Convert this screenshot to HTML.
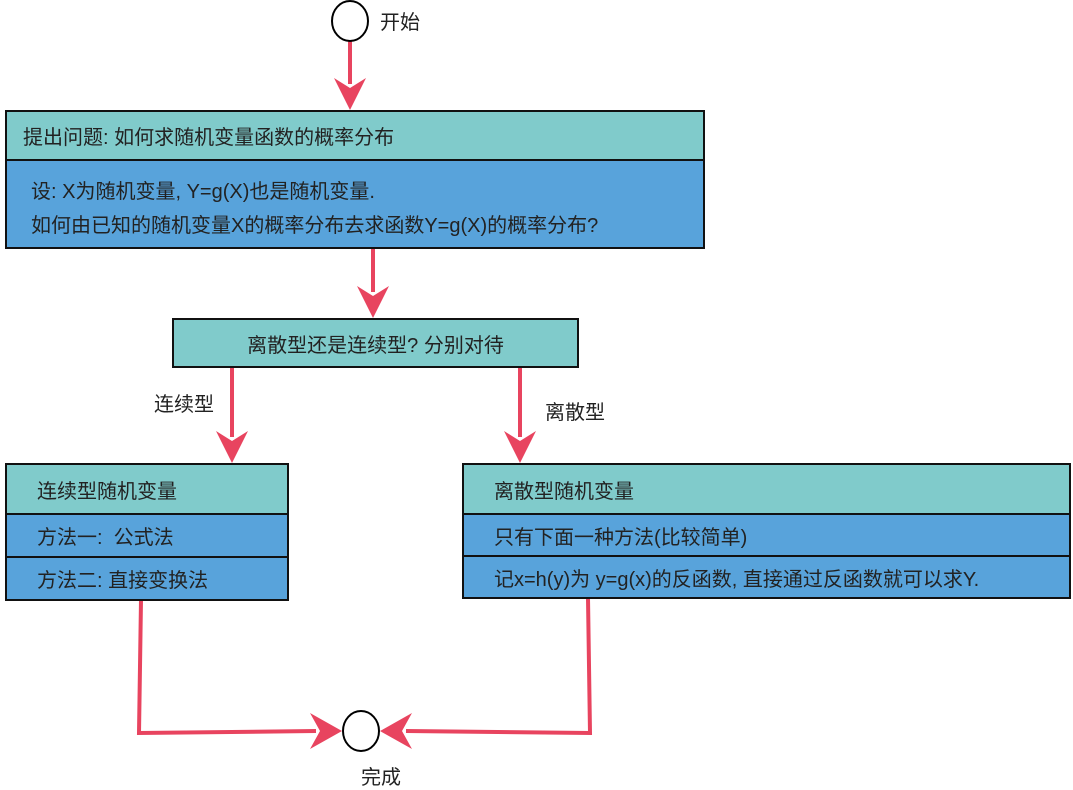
<!DOCTYPE html>
<html><head><meta charset="utf-8"><style>
body{margin:0;background:#fff;width:1073px;height:789px;overflow:hidden;position:relative;font-family:"Liberation Sans","Noto Sans CJK SC",sans-serif;color:#222}
.b{position:absolute;box-sizing:border-box;border:2px solid #111;font-size:20px;white-space:nowrap}
.t{background:#80cbcb}.u{background:#58a3db}
.r{position:absolute;left:0;right:0;box-sizing:border-box;display:flex;align-items:center}
.lbl{position:absolute;font-size:20px;white-space:nowrap}
</style></head><body>
<svg width="1073" height="789" style="position:absolute;left:0;top:0">
<defs><marker id="a" markerWidth="10" markerHeight="10" refX="9" refY="5" orient="auto" markerUnits="userSpaceOnUse" viewBox="0 0 10 10"><path d="M0,0 L10,5 L0,10 L3,5z" fill="#e8445f"/></marker></defs>
<g stroke="#e8445f" stroke-width="4" fill="none">
<line x1="350" y1="40" x2="350" y2="84"/>
<line x1="373" y1="248" x2="373" y2="292"/>
<line x1="232" y1="367" x2="232" y2="437"/>
<line x1="520" y1="367" x2="520" y2="437"/>
<polyline points="141,600 139,733 316,731"/>
<polyline points="588,598 590,733 406,731"/>
</g>
<g fill="#e8445f">
<path d="M334,78 L350,110 L366,78 L350,88z"/>
<path d="M357,286 L373,318 L389,286 L373,296z"/>
<path d="M216,431 L232,463 L248,431 L232,441z"/>
<path d="M504,431 L520,463 L536,431 L520,441z"/>
<path d="M310,713 L342,731 L310,749 L320,731z"/>
<path d="M412,713 L380,731 L412,749 L402,731z"/>
</g>
<ellipse cx="350" cy="21" rx="18" ry="20" fill="#fff" stroke="#000" stroke-width="2"/>
<ellipse cx="361" cy="731" rx="18" ry="20" fill="#fff" stroke="#000" stroke-width="2"/>
</svg>
<div class="lbl" style="left:380px;top:6px">开始</div>
<div class="lbl" style="left:361px;top:761px">完成</div>
<div class="lbl" style="left:154px;top:388px">连续型</div>
<div class="lbl" style="left:545px;top:396px">离散型</div>

<div class="b" style="left:5px;top:110px;width:700px;height:139px">
<div class="r t" style="top:0;height:49px;border-bottom:2px solid #111;padding-left:16px">提出问题: 如何求随机变量函数的概率分布</div>
<div class="r u" style="top:49px;bottom:0;padding-left:24px;display:block;padding-top:14px;line-height:34px">设: X为随机变量, Y=g(X)也是随机变量.<br>如何由已知的随机变量X的概率分布去求函数Y=g(X)的概率分布?</div>
</div>

<div class="b t" style="left:172px;top:318px;width:407px;height:50px;display:flex;align-items:center;justify-content:center">离散型还是连续型? 分别对待</div>

<div class="b" style="left:5px;top:463px;width:284px;height:138px">
<div class="r t" style="top:0;height:50px;border-bottom:2px solid #111;padding-left:30px">连续型随机变量</div>
<div class="r u" style="top:50px;height:43px;border-bottom:2px solid #111;padding-left:30px">方法一:&nbsp; 公式法</div>
<div class="r u" style="top:93px;bottom:0;padding-left:30px">方法二: 直接变换法</div>
</div>

<div class="b" style="left:462px;top:463px;width:609px;height:136px">
<div class="r t" style="top:0;height:50px;border-bottom:2px solid #111;padding-left:30px">离散型随机变量</div>
<div class="r u" style="top:50px;height:42px;border-bottom:2px solid #111;padding-left:30px">只有下面一种方法(比较简单)</div>
<div class="r u" style="top:92px;bottom:0;padding-left:30px">记x=h(y)为 y=g(x)的反函数, 直接通过反函数就可以求Y.</div>
</div>
</body></html>
